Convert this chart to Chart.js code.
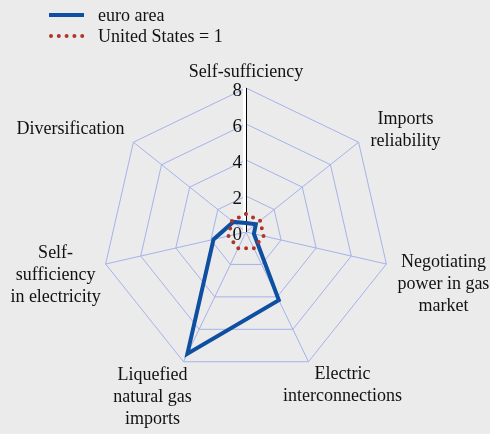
<!DOCTYPE html>
<html>
<head>
<meta charset="utf-8">
<script src="https://cdn.jsdelivr.net/npm/chart.js@4/dist/chart.umd.min.js"></script>
<style>
  html, body { margin: 0; padding: 0; background: #ebebeb; }
  #wrap { width: 490px; height: 434px; }
</style>
</head>
<body>
<div id="wrap"><canvas id="radar" width="490" height="434"></canvas></div>
<script>
// ------- DATA -------
const categories = [
    ["Self-sufficiency"],
    ["Imports", "reliability"],
    ["Negotiating", "power in gas", "market"],
    ["Electric", "interconnections"],
    ["Liquefied", "natural gas", "imports"],
    ["Self-", "sufficiency", "in electricity"],
    ["Diversification"]
];
const euroArea = [0.5, 0.7, 0.45, 4.2, 7.5, 1.85, 0.9];
const unitedStates = [1, 1, 1, 1, 1, 1, 1];
const tickValues = [0, 2, 4, 6, 8];

// ------- STYLE -------
const BLUE = "#0f4fa1";
const RED = "#b03429";
const GRID = "#a4b2ea";
const FONT = "18px 'Liberation Serif', 'Times New Roman', serif";
const TICK_FONT = "19px 'Liberation Serif', 'Times New Roman', serif";

// where each category label sits, relative to its outer grid vertex
const labelNudge = [[0, -16], [47, -12], [57, 20], [34, 24], [-31, 36], [-50, 11], [-63, -13]];

// axis line, tick numbers, category labels and legend, drawn by hand
const radarExtras = {
    id: "radarExtras",
    beforeDatasetsDraw(chart) {
        const r = chart.scales.r;
        const ctx = chart.ctx;
        const top = r.getPointPositionForValue(0, r.max);
        const x = Math.round(r.xCenter);
        ctx.save();
        // white strip with the black value axis beside it
        ctx.strokeStyle = "#ffffff";
        ctx.lineWidth = 3;
        ctx.beginPath();
        ctx.moveTo(x - 1.5, r.yCenter);
        ctx.lineTo(x - 1.5, top.y);
        ctx.stroke();
        ctx.strokeStyle = "#000000";
        ctx.lineWidth = 1;
        ctx.beginPath();
        ctx.moveTo(x + 0.5, r.yCenter);
        ctx.lineTo(x + 0.5, top.y);
        ctx.stroke();
        ctx.restore();
    },
    afterDraw(chart) {
        const r = chart.scales.r;
        const ctx = chart.ctx;
        ctx.save();
        ctx.fillStyle = "#111";

        // tick numbers on the vertical axis
        ctx.font = TICK_FONT;
        ctx.textAlign = "right";
        ctx.textBaseline = "middle";
        r.ticks.forEach(t => {
            const p = r.getPointPositionForValue(0, t.value);
            ctx.fillText(String(t.value), p.x - 4, p.y + 3);
        });

        // category labels, lines centred in each block
        ctx.font = FONT;
        ctx.textAlign = "center";
        const lh = 22;
        chart.data.labels.forEach((lines, i) => {
            const v = r.getPointPosition(i, r.drawingArea);
            const cx = v.x + labelNudge[i][0];
            const cy = v.y + labelNudge[i][1];
            lines.forEach((line, k) => {
                ctx.fillText(line, cx, cy + (k - (lines.length - 1) / 2) * lh);
            });
        });

        // legend
        const ds = chart.data.datasets;
        ctx.textAlign = "left";
        ds.forEach((d, i) => {
            const y = 15 + i * 21;
            ctx.strokeStyle = d.borderColor;
            ctx.lineWidth = d.borderWidth;
            ctx.lineCap = d.borderCapStyle || "butt";
            ctx.setLineDash(d.borderDash || []);
            ctx.beginPath();
            if (d.borderDash) {
                ctx.moveTo(51, y);
                ctx.lineTo(83, y);
            } else {
                ctx.moveTo(49, y);
                ctx.lineTo(84, y);
            }
            ctx.stroke();
            ctx.setLineDash([]);
            ctx.fillText(d.label, 98, y + 1);
        });
        ctx.restore();
    }
};

new Chart(document.getElementById("radar"), {
    type: "radar",
    data: {
        labels: categories,
        datasets: [
            {
                label: "euro area",
                data: euroArea,
                borderColor: BLUE,
                borderWidth: 4,
                borderJoinStyle: "miter",
                pointRadius: 0,
                fill: false,
                order: 2
            },
            {
                label: "United States = 1",
                data: unitedStates,
                borderColor: RED,
                borderWidth: 4,
                borderDash: [0, 7.8],
                borderCapStyle: "round",
                pointRadius: 0,
                fill: false,
                order: 1
            }
        ]
    },
    options: {
        responsive: false,
        devicePixelRatio: 1,
        animation: false,
        layout: { padding: { left: 102, right: 100, top: 88, bottom: 58 } },
        plugins: { legend: { display: false }, tooltip: { enabled: false } },
        elements: { line: { tension: 0 } },
        scales: {
            r: {
                min: 0,
                max: 8,
                ticks: { display: false, stepSize: 2 },
                afterBuildTicks: s => { s.ticks = tickValues.map(v => ({ value: v })); },
                pointLabels: { display: false },
                grid: { color: GRID, lineWidth: 1 },
                angleLines: {
                    color: c => c.index === 0 ? "rgba(0,0,0,0)" : GRID,
                    lineWidth: 1
                }
            }
        }
    },
    plugins: [radarExtras]
});
</script>
</body>
</html>
